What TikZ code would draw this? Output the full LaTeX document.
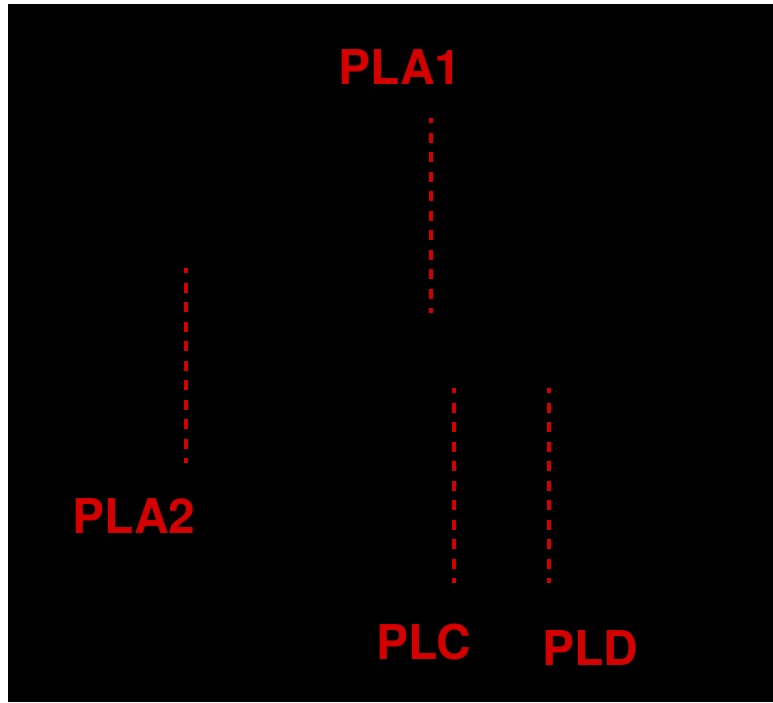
\documentclass[tikz,border=0pt]{standalone}
\usepackage{fontspec}
\setmainfont{TeX Gyre Heros}
\usetikzlibrary{positioning}
\definecolor{plred}{RGB}{212,0,0}

\begin{document}
\begin{tikzpicture}[x=1pt, y=-1pt, font=\fontsize{48}{48}\selectfont\bfseries,
    lbl/.style={text=plred, inner sep=0pt},
    guide/.style={draw=plred, line width=3.5pt, dash pattern=on 10pt off 9.5pt, dash phase=5pt}]
  \fill[white] (0,0) rectangle (773,702);
  \fill[black] (8,4) rectangle (773,702);
  \useasboundingbox (0,0) rectangle (773,702);
  % label position / top of its dashed guide
  \foreach \nm/\lx/\ly/\gx/\gy in {
    A1/400/67/431/118, A2/134/516/186/268,
    C/424/642/454/388, D/590/648/549/388}
  { \node[lbl] (pl\nm) at (\lx,\ly) {PL\nm};
    \coordinate (g\nm top) at (\gx,\gy);
    \coordinate (g\nm bot) at (\gx,\gy+195);
    \draw[guide] (g\nm top) -- (g\nm bot); }
\end{tikzpicture}
\end{document}
